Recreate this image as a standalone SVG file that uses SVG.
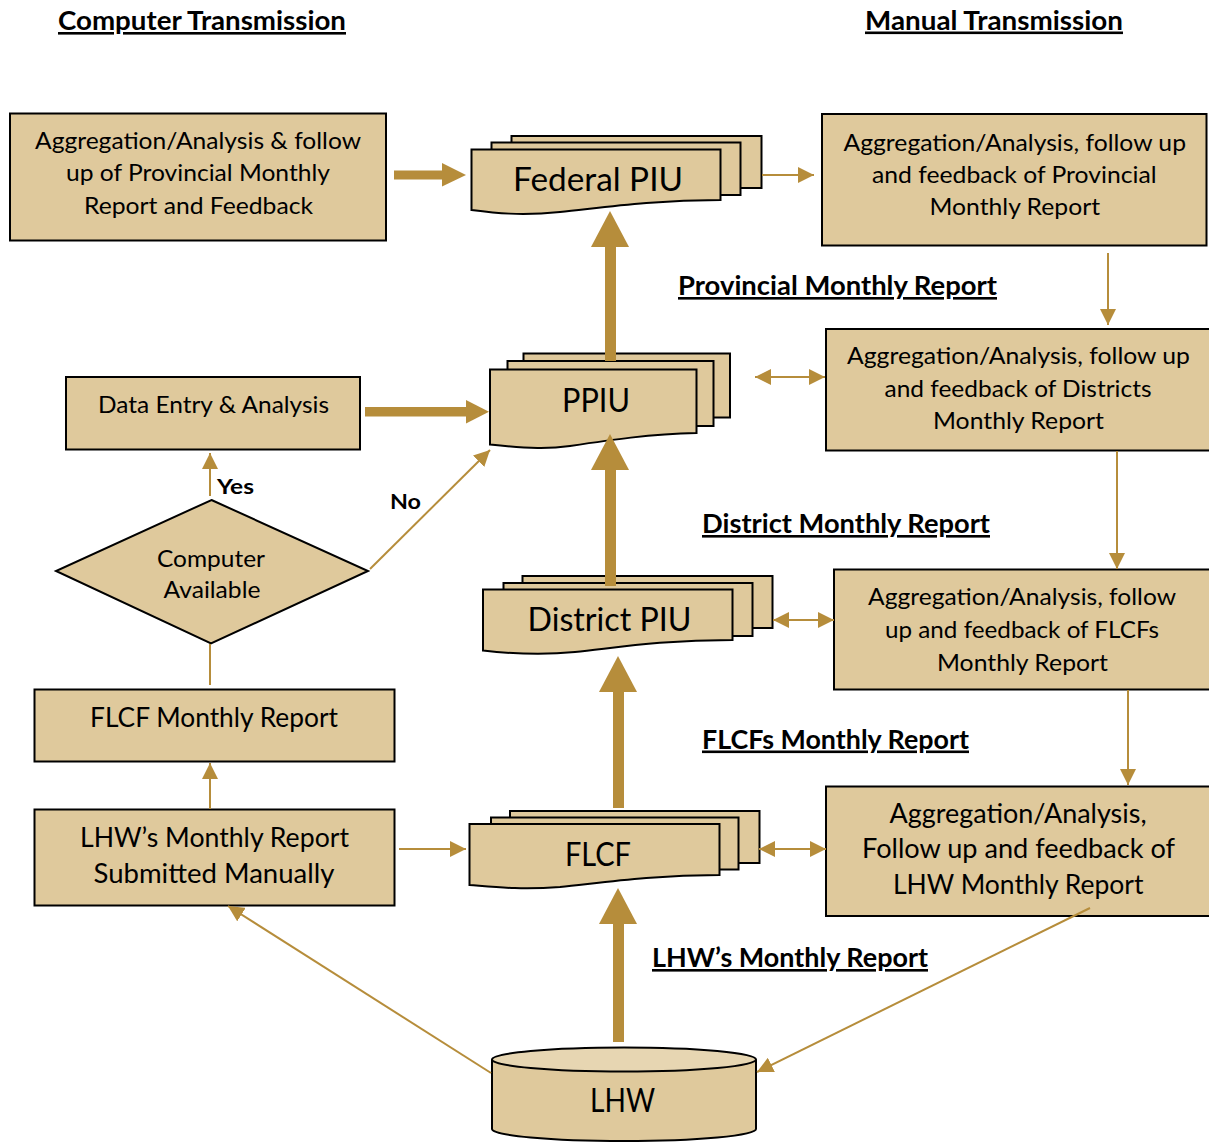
<svg xmlns="http://www.w3.org/2000/svg" width="1209" height="1142" viewBox="0 0 1209 1142">
<defs>
<style>
.box{fill:#dfc99c;stroke:#000;stroke-width:2}
.t{font-family:Lato,"Liberation Sans",sans-serif;fill:#000}
.r24{font-size:24px}
.r26{font-size:26px}
.big{font-size:32px}
.h{font-family:Lato,"Liberation Sans",sans-serif;font-weight:bold;font-size:26px;text-decoration:underline;fill:#000}
.b{font-family:Lato,"Liberation Sans",sans-serif;font-weight:bold;font-size:21px;fill:#000}
.thin{stroke:#b68d3b;stroke-width:2;fill:none}
.thick{fill:#b68d3b}
</style>
<marker id="ah" viewBox="0 0 16 16" refX="16" refY="8" markerWidth="16" markerHeight="16" markerUnits="userSpaceOnUse" orient="auto-start-reverse">
<path d="M0,0 L16,8 L0,16 z" fill="#b68d3b"/>
</marker>
</defs>
<rect width="1209" height="1142" fill="#fff"/>

<g id="titles">
<text class="h" x="58" y="30" textLength="288" lengthAdjust="spacingAndGlyphs">Computer Transmission</text>
<text class="h" x="865" y="29.5" textLength="258" lengthAdjust="spacingAndGlyphs">Manual Transmission</text>
<text class="h" x="678" y="295" textLength="319" lengthAdjust="spacingAndGlyphs">Provincial Monthly Report</text>
<text class="h" x="702" y="533" textLength="288" lengthAdjust="spacingAndGlyphs">District Monthly Report</text>
<text class="h" x="702" y="748.5" textLength="267" lengthAdjust="spacingAndGlyphs">FLCFs Monthly Report</text>
<text class="h" x="652" y="967" textLength="276" lengthAdjust="spacingAndGlyphs">LHW&#8217;s Monthly Report</text>
</g>

<g id="agg-provincial-computer">
<rect class="box" x="10" y="113.5" width="376" height="127"/>
<text class="t r24" x="35" y="148.5" textLength="326" lengthAdjust="spacingAndGlyphs">Aggregation/Analysis &amp; follow</text>
<text class="t r24" x="66" y="181" textLength="264" lengthAdjust="spacingAndGlyphs">up of Provincial Monthly</text>
<text class="t r24" x="84" y="213.5" textLength="229" lengthAdjust="spacingAndGlyphs">Report and Feedback</text>
</g>

<g id="data-entry">
<rect class="box" x="66" y="377" width="294" height="72.5"/>
<text class="t r24" x="98" y="413.3" textLength="231" lengthAdjust="spacingAndGlyphs">Data Entry &amp; Analysis</text>
</g>

<g id="computer-available">
<polygon class="box" points="211.5,500 368,571 211,643.5 56,571"/>
<text class="t r24" x="157" y="566.7" textLength="108" lengthAdjust="spacingAndGlyphs">Computer</text>
<text class="t r24" x="163.5" y="598.3" textLength="97" lengthAdjust="spacingAndGlyphs">Available</text>
<text class="b" x="217" y="493.5" textLength="37" lengthAdjust="spacingAndGlyphs">Yes</text>
<text class="b" x="390" y="509" textLength="31" lengthAdjust="spacingAndGlyphs">No</text>
</g>

<g id="flcf-monthly-report">
<rect class="box" x="34.5" y="689.5" width="360" height="72"/>
<text class="t r26" x="90" y="726.7" textLength="248" lengthAdjust="spacingAndGlyphs">FLCF Monthly Report</text>
</g>

<g id="lhw-submitted">
<rect class="box" x="34.5" y="809.5" width="360" height="96"/>
<text class="t r26" x="80" y="846.7" textLength="269" lengthAdjust="spacingAndGlyphs">LHW&#8217;s Monthly Report</text>
<text class="t r26" x="93.5" y="883.3" textLength="241" lengthAdjust="spacingAndGlyphs">Submitted Manually</text>
</g>

<g id="federal-piu">
<rect class="box" x="511.5" y="136" width="250" height="52"/>
<rect class="box" x="491.5" y="142.5" width="249" height="52.5"/>
<path class="box" d="M471.5,149.5 H720.5 V200 C650,200 600,208 560,212 C520,216 495,213 471.5,210 Z"/>
<text class="t big" x="513" y="191" textLength="170" lengthAdjust="spacingAndGlyphs">Federal PIU</text>
</g>

<g id="ppiu">
<rect class="box" x="523.5" y="353.5" width="206.5" height="64"/>
<rect class="box" x="507.5" y="361" width="206" height="65"/>
<path class="box" d="M490,369.5 H696.5 V433 C650,434 610,440 570,446 C550,449 530,449 490,444.5 Z"/>
<text class="t big" x="562" y="411.7" textLength="68" lengthAdjust="spacingAndGlyphs">PPIU</text>
</g>

<g id="district-piu">
<rect class="box" x="522.5" y="576" width="250" height="52"/>
<rect class="box" x="503.5" y="583" width="249" height="53"/>
<path class="box" d="M483,589.5 H732.5 V640 C660,640 615,648 575,652 C535,656 505,653 483,650.5 Z"/>
<text class="t big" x="527.5" y="631" textLength="164" lengthAdjust="spacingAndGlyphs">District PIU</text>
</g>

<g id="flcf">
<rect class="box" x="510" y="811" width="249.5" height="52"/>
<rect class="box" x="491" y="817.5" width="247.5" height="52"/>
<path class="box" d="M469.5,824 H719.5 V875 C650,875 600,883 560,887 C520,890 495,887 469.5,885 Z"/>
<text class="t big" x="565" y="866" textLength="66" lengthAdjust="spacingAndGlyphs">FLCF</text>
</g>

<g id="lhw">
<path class="box" d="M492,1059.5 V1129 A132,12 0 0 0 756,1129 V1059.5"/>
<ellipse cx="624" cy="1059.5" rx="132" ry="12" fill="#e7d6b2" stroke="#000" stroke-width="2"/>
<text class="t big" x="590" y="1111.7" textLength="65" lengthAdjust="spacingAndGlyphs">LHW</text>
</g>

<g id="agg-provincial-manual">
<rect class="box" x="822" y="114" width="384.5" height="131.5"/>
<text class="t r24" x="843.5" y="150.7" textLength="342.5" lengthAdjust="spacingAndGlyphs">Aggregation/Analysis, follow up</text>
<text class="t r24" x="872" y="182.5" textLength="284.5" lengthAdjust="spacingAndGlyphs">and feedback of Provincial</text>
<text class="t r24" x="929.5" y="215" textLength="170.5" lengthAdjust="spacingAndGlyphs">Monthly Report</text>
</g>

<g id="agg-districts">
<rect class="box" x="826" y="329" width="390" height="121.5"/>
<text class="t r24" x="847" y="364" textLength="343" lengthAdjust="spacingAndGlyphs">Aggregation/Analysis, follow up</text>
<text class="t r24" x="884.5" y="396.7" textLength="267" lengthAdjust="spacingAndGlyphs">and feedback of Districts</text>
<text class="t r24" x="933" y="429.3" textLength="171" lengthAdjust="spacingAndGlyphs">Monthly Report</text>
</g>

<g id="agg-flcfs">
<rect class="box" x="834" y="569.5" width="382" height="120"/>
<text class="t r24" x="868" y="605" textLength="308" lengthAdjust="spacingAndGlyphs">Aggregation/Analysis, follow</text>
<text class="t r24" x="885" y="638" textLength="274" lengthAdjust="spacingAndGlyphs">up and feedback of FLCFs</text>
<text class="t r24" x="937" y="670.5" textLength="171" lengthAdjust="spacingAndGlyphs">Monthly Report</text>
</g>

<g id="agg-lhw">
<rect class="box" x="826" y="786.5" width="390" height="129.5"/>
<text class="t r26" x="889.5" y="822.7" textLength="257" lengthAdjust="spacingAndGlyphs">Aggregation/Analysis,</text>
<text class="t r26" x="862" y="858.3" textLength="313" lengthAdjust="spacingAndGlyphs">Follow up and feedback of</text>
<text class="t r26" x="893" y="894.3" textLength="250.5" lengthAdjust="spacingAndGlyphs">LHW Monthly Report</text>
</g>

<g id="connectors">
<rect class="thick" x="394" y="170.5" width="51" height="9"/>
<polygon class="thick" points="442,163 442,186.5 466,175"/>
<rect class="thick" x="365" y="407" width="103" height="9.5"/>
<polygon class="thick" points="466,400 466,423.5 489,411.7"/>
<rect class="thick" x="605" y="244" width="11" height="117"/>
<polygon class="thick" points="591,247 629,247 610,211"/>
<rect class="thick" x="605" y="466" width="11" height="120"/>
<polygon class="thick" points="591,470 629,470 610,434"/>
<rect class="thick" x="613" y="688" width="11" height="120"/>
<polygon class="thick" points="599,692 637,692 618,656"/>
<rect class="thick" x="613" y="920" width="11" height="122"/>
<polygon class="thick" points="599,924 637,924 618,888"/>
<line class="thin" x1="762" y1="175" x2="814" y2="175" marker-end="url(#ah)"/>
<line class="thin" x1="1108" y1="253" x2="1108" y2="325" marker-end="url(#ah)"/>
<line class="thin" x1="755" y1="377" x2="825" y2="377" marker-start="url(#ah)" marker-end="url(#ah)"/>
<line class="thin" x1="1117" y1="451" x2="1117" y2="569" marker-end="url(#ah)"/>
<line class="thin" x1="773" y1="620" x2="834" y2="620" marker-start="url(#ah)" marker-end="url(#ah)"/>
<line class="thin" x1="1128" y1="690" x2="1128" y2="785" marker-end="url(#ah)"/>
<line class="thin" x1="759" y1="849" x2="826" y2="849" marker-start="url(#ah)" marker-end="url(#ah)"/>
<line class="thin" x1="1090" y1="908" x2="757" y2="1072" marker-end="url(#ah)"/>
<line class="thin" x1="491" y1="1073" x2="228" y2="906" marker-end="url(#ah)"/>
<line class="thin" x1="399" y1="849" x2="466" y2="849" marker-end="url(#ah)"/>
<line class="thin" x1="210" y1="809" x2="210" y2="763" marker-end="url(#ah)"/>
<line class="thin" x1="210" y1="644" x2="210" y2="685"/>
<line class="thin" x1="210" y1="496" x2="210" y2="453" marker-end="url(#ah)"/>
<line class="thin" x1="370" y1="569" x2="490" y2="450" marker-end="url(#ah)"/>
</g>
</svg>
